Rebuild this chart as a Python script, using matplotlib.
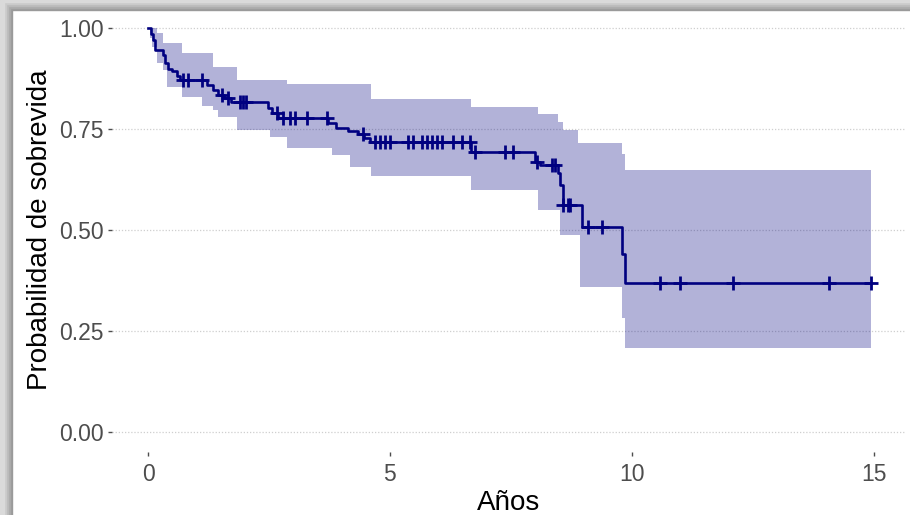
import numpy as np
import matplotlib
matplotlib.use('Agg')
import matplotlib.pyplot as plt
from matplotlib.patches import Rectangle

plt.rcParams['font.family'] = ['Liberation Sans', 'DejaVu Sans']

# Curva de Kaplan-Meier (tiempos de evento y supervivencia)
tiempos = [0.00, 0.06, 0.10, 0.14, 0.31, 0.35, 0.41, 0.50, 0.60, 0.66, 1.22, 1.34, 1.45,
           1.57, 1.71, 2.48, 2.56, 2.69, 3.72, 3.88, 4.13, 4.34, 4.46, 4.59, 6.67, 8.00,
           8.10, 8.47, 8.51, 8.57, 8.97, 9.79, 9.86]
supervivencia = [1.000, 0.985, 0.970, 0.947, 0.933, 0.913, 0.900, 0.893, 0.882, 0.871, 0.858,
                 0.846, 0.835, 0.826, 0.816, 0.803, 0.790, 0.778, 0.764, 0.752, 0.745, 0.737,
                 0.728, 0.718, 0.694, 0.668, 0.661, 0.640, 0.611, 0.562, 0.507, 0.440, 0.368]
t_final = 14.94

# Censuras
censuras = [0.72, 0.83, 1.12, 1.53, 1.65, 1.90, 1.96, 2.02, 2.67, 2.79, 2.93, 3.04, 3.29,
            3.70, 4.44, 4.69, 4.79, 4.90, 5.00, 5.37, 5.48, 5.66, 5.76, 5.87, 5.97, 6.07,
            6.30, 6.49, 6.65, 6.76, 7.38, 7.54, 8.04, 8.35, 8.41, 8.58, 8.68, 8.72, 9.09,
            9.38, 10.58, 10.99, 12.09, 14.07, 14.94]

# Intervalo de confianza
ic_t = [0.00, 0.04, 0.08, 0.19, 0.31, 0.39, 0.70, 1.12, 1.34, 1.45, 1.84, 2.52, 2.87, 3.80,
        4.17, 4.61, 6.67, 8.06, 8.47, 8.51, 8.57, 8.88, 8.93, 9.79, 9.86, 14.94]
ic_sup = [1.000, 1.000, 1.000, 0.988, 0.963, 0.963, 0.938, 0.938, 0.904, 0.904, 0.871, 0.871,
          0.862, 0.862, 0.862, 0.824, 0.804, 0.787, 0.768, 0.768, 0.748, 0.716, 0.716, 0.688,
          0.649, 0.649]
ic_inf = [1.000, 0.975, 0.953, 0.913, 0.896, 0.854, 0.830, 0.806, 0.797, 0.780, 0.748, 0.730,
          0.703, 0.686, 0.656, 0.634, 0.599, 0.550, 0.550, 0.488, 0.488, 0.488, 0.359, 0.282,
          0.208, 0.208]

fig = plt.figure(figsize=(9.1, 5.15), dpi=100)
ax = fig.add_axes([112 / 910, 1 - 452 / 515, 793 / 910, 444 / 515])
ax.patch.set_visible(False)

ax.fill_between(ic_t, ic_inf, ic_sup, step='post', color='#000080', alpha=0.3, linewidth=0)

t_linea = tiempos + [t_final]
s_linea = supervivencia + [supervivencia[-1]]
ax.step(t_linea, s_linea, where='post', color='#000080', linewidth=1.9)

idx = np.searchsorted(tiempos, censuras, side='right') - 1
s_cens = np.array(supervivencia)[idx]
ax.plot(censuras, s_cens, linestyle='none', marker='+', markersize=9.5,
        markeredgewidth=2, color='#000080')

ax.set_xlim(-0.745, 15.645)
ax.set_ylim(-0.05, 1.05)
ax.set_xticks([0, 5, 10, 15])
ax.set_yticks([0, 0.25, 0.5, 0.75, 1.0])
ax.set_yticklabels(['0.00', '0.25', '0.50', '0.75', '1.00'])

ax.grid(axis='y', linestyle=(0, (1, 1.5)), color='#cfcfcf', linewidth=0.9)
ax.set_axisbelow(True)
for s in ax.spines.values():
    s.set_visible(False)
ax.tick_params(axis='both', colors='#4d4d4d', labelsize=16.5, length=3, width=1)
ax.tick_params(axis='y', pad=3)
ax.tick_params(axis='x', pad=5)

ax.set_xlabel('Años', fontsize=20, color='black', labelpad=3)
ax.set_ylabel('Probabilidad de sobrevida', fontsize=20, color='black', labelpad=4)

# marco gris de la captura
for i, c in enumerate(['#9a9a9a', '#aaaaaa', '#bababa', '#cacaca', '#dadada']):
    fig.patches.append(Rectangle((0, 1 - (10 - 2 * i) / 515), 1, (10 - 2 * i) / 515,
                                 transform=fig.transFigure, color=c, zorder=-1 + i * 0.01))
    fig.patches.append(Rectangle((0, 0), (12 - 2 * i) / 910, 1,
                                 transform=fig.transFigure, color=c, zorder=-1 + i * 0.01))

fig.savefig('out.png', dpi=100)
